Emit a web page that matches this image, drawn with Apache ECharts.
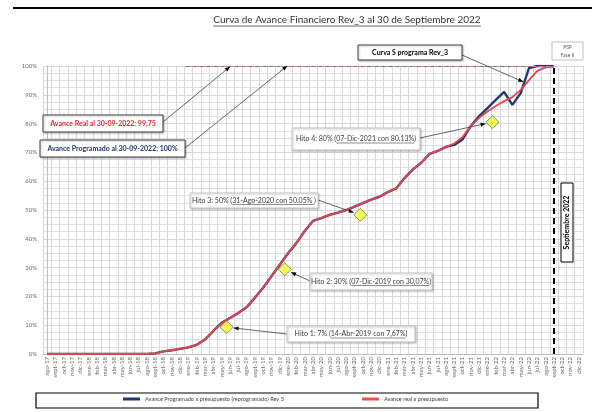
<!DOCTYPE html>
<html><head><meta charset="utf-8">
<script src="https://cdn.jsdelivr.net/npm/echarts/dist/echarts.min.js"></script>
<style>html,body{margin:0;padding:0;background:#fff}#c{width:592px;height:412px}</style>
</head><body><div id="c"></div>
<script>
const titleText = 'Curva de Avance Financiero Rev_3 al 30 de Septiembre 2022';
const categories = ['ago-17','sept-17','oct-17','nov-17','dic-17',
 'ene-18','feb-18','mar-18','abr-18','may-18','jun-18','jul-18','ago-18','sept-18','oct-18','nov-18','dic-18',
 'ene-19','feb-19','mar-19','abr-19','may-19','jun-19','jul-19','ago-19','sept-19','oct-19','nov-19','dic-19',
 'ene-20','feb-20','mar-20','abr-20','may-20','jun-20','jul-20','ago-20','sept-20','oct-20','nov-20','dic-20',
 'ene-21','feb-21','mar-21','abr-21','may-21','jun-21','jul-21','ago-21','sept-21','oct-21','nov-21','dic-21',
 'ene-22','feb-22','mar-22','abr-22','may-22','jun-22','jul-22','ago-22','sept-22','oct-22','nov-22','dic-22'];
const seriesNames = ['Avance Programado x presupuesto (reprogramado) Rev 3', 'Avance real x presupuesto'];
const programado = [0,0,0,0,0,0,0,0,0,0,0,0,0,
 0.2,0.9,1.3,1.8,2.3,3.2,5.0,8.0,10.8,12.5,14.2,16.2,19.5,23,27,31,35,38.5,42.7,46.2,47.2,48.3,49.1,50,51.2,52.4,53.6,54.6,56.2,57.5,61,64,66.3,69.4,70.5,71.9,
 72.6,74.5,79.2,82.6,85.4,88.2,91,86.5,90.6,99.3,100,100,100,null,null,null];
const real = [0,0,0,0,0,0,0,0,0,0,0,0,0,
 0.2,0.9,1.3,1.8,2.3,3.2,5.0,8.0,10.8,12.5,14.2,16.2,19.5,23,27,31,35,38.5,42.7,46.2,47.2,48.3,49.1,50,51.2,52.4,53.6,54.6,56.2,57.5,61,64,66.3,69.4,70.5,71.9,
 73.1,75.3,79.2,82,84.2,86.1,87.8,89.2,91.7,95.1,98.3,99.5,99.75,null,null,null];
// milestone diamonds (x in category-index units, y in %)
const milestoneX = [21.6, 28.6, 37.7, 53.6];
const milestoneY = [9.3, 29.4, 48.3, 80.5];
const hitoPrefix = ['Hito 1: 7% (', 'Hito 2: 30% (', 'Hito 3: 50% (', 'Hito 4: 80% ('];
const hitoUnder = ['14-Abr-2019 con 7,67%', '07-Dic-2019 con 30,07%', '31-Ago-2020 con 50.05% ', '07-Dic-2021 con 80.13%'];
const hitoSuffix = [')', ')', ')', ')'];
const targetProgramado = 100;
const targetReal = 99.75;
const dashStart = 16.6, dashEnd = 61;
const cutoff = 'sept-22';
const realLabel = 'Avance Real al 30-09-2022: 99,75';
const progLabel = 'Avance Programado al 30-09-2022: 100%';
const curvaLabel = 'Curva S programa Rev_3';
const cutoffLabel = 'Septiembre 2022';
const pspLabel = ['PSP', 'Fase II'];
// arrow target points (data coords on index axis)
const realArrowTarget = [22, 99.75];
const progArrowTarget = [28.9, 100];
const curvaArrowTarget = [57.3, 94.5];

const FONT = 'Lato, "Open Sans", sans-serif';
const chart = echarts.init(document.getElementById('c'));
chart.setOption({
  animation: false,
  backgroundColor: '#fff',
  textStyle: {fontFamily: FONT},
  grid: {left: 43, right: 9, top: 66, bottom: 58, containLabel: false, outerBoundsMode: 'none'},
  legend: {
    data: seriesNames, left: 123, top: 396, padding: 0, itemGap: 78,
    itemWidth: 17, itemHeight: 3, icon: 'rect',
    textStyle: {fontSize: 5.6, color: '#404040', fontFamily: FONT}
  },
  xAxis: [{
    type: 'category', data: categories, boundaryGap: true,
    axisLine: {lineStyle: {color: '#bfbfbf'}}, axisTick: {show: false},
    axisLabel: {interval: 0, rotate: 90, fontSize: 6, color: '#6a6a6a', margin: 3},
    splitLine: {show: true, interval: 0, lineStyle: {color: '#d9d9d9', width: 1}}
  }, {
    type: 'value', min: -0.5, max: 64.5, show: false, splitLine: {show: false}
  }],
  yAxis: {
    type: 'value', min: 0, max: 100, interval: 10,
    axisLabel: {formatter: '{value}%', fontSize: 6, color: '#6a6a6a', margin: 6},
    axisLine: {show: true, lineStyle: {color: '#bfbfbf'}}, axisTick: {show: false},
    splitLine: {lineStyle: {color: '#d9d9d9'}},
    minorTick: {show: false, splitNumber: 4},
    minorSplitLine: {show: true, lineStyle: {color: '#e2e2e2'}}
  },
  series: [{
    name: seriesNames[0], type: 'line', data: programado, symbol: 'none',
    lineStyle: {color: '#1f3a6e', width: 2.4}, itemStyle: {color: '#1f3a6e'}, z: 2,
    markLine: {silent: true, symbol: ['none', 'none'], label: {show: false},
      lineStyle: {color: '#000', type: [6, 4], width: 2},
      data: [{xAxis: cutoff}]}
  }, {
    name: seriesNames[1], type: 'line', data: real, symbol: 'none',
    lineStyle: {color: '#e8424c', width: 1.8}, itemStyle: {color: '#f0504a'}, z: 3
  }, {
    type: 'scatter', xAxisIndex: 1, z: 5,
    data: milestoneX.map((x, i) => [x, milestoneY[i]]),
    symbol: 'diamond', symbolSize: 13,
    itemStyle: {color: '#f5f52a', borderColor: '#5f7f6a', borderWidth: 1},
    markLine: {silent: true, symbol: ['none', 'none'], label: {show: false},
      lineStyle: {type: [4, 3], width: 1.2},
      data: [
        [{coord: [dashStart, targetProgramado], lineStyle: {color: '#4f74c0', type: [4, 3], width: 1.2}}, {coord: [dashEnd, targetProgramado]}],
        [{coord: [dashStart, targetReal], lineStyle: {color: '#ef7f7f', type: [4, 3], width: 1.2, dashOffset: 3}}, {coord: [dashEnd, targetReal]}]
      ]}
  }]
});

const ctx = document.createElement('canvas').getContext('2d');
function tw(str, size, weight) { ctx.font = (weight || 'normal') + ' ' + size + 'px ' + FONT; return ctx.measureText(str).width; }
const px = (p) => chart.convertToPixel({xAxisIndex: 1, yAxisIndex: 0}, p);
const G = [];
function box(x, y, w, h, stroke, shadow) {
  G.push({type: 'rect', z: 20, shape: {x: x, y: y, width: w, height: h},
    style: {fill: '#fff', stroke: stroke, lineWidth: 1,
      shadowBlur: shadow ? 2 : 0, shadowColor: 'rgba(0,0,0,0.25)', shadowOffsetX: shadow ? 1 : 0, shadowOffsetY: shadow ? 1 : 0}});
}
function text(x, y, str, size, color, weight, align, rot) {
  G.push({type: 'text', z: 21, x: x, y: y, rotation: rot || 0,
    style: {text: str, fontSize: size, fontFamily: FONT, fontWeight: weight || 'normal', fill: color, align: align || 'left', verticalAlign: 'middle'}});
}
function line(x1, y1, x2, y2, color, w, z) {
  G.push({type: 'line', z: z || 19, shape: {x1: x1, y1: y1, x2: x2, y2: y2}, style: {stroke: color, lineWidth: w}});
}
function arrow(p0, p1) {
  line(p0[0], p0[1], p1[0], p1[1], '#404040', 0.8, 19);
  const dx = p1[0] - p0[0], dy = p1[1] - p0[1], L = Math.hypot(dx, dy);
  const ux = dx / L, uy = dy / L, bx = p1[0] - ux * 5, by = p1[1] - uy * 5;
  G.push({type: 'polygon', z: 19, shape: {points: [[p1[0], p1[1]], [bx - uy * 2, by + ux * 2], [bx + uy * 2, by - ux * 2]]}, style: {fill: '#000'}});
}

// page line + title
line(13, 8, 592, 8, '#000', 2, 5);
text(347, 20, titleText, 10, '#333', 'normal', 'center');
const tW = tw(titleText, 10);
line(347 - tW / 2, 26, 347 + tW / 2, 26, '#404040', 0.8, 5);

// Real / programado boxes
box(43, 115, 120, 17, '#404040', true);
text(103, 123.5, realLabel, 7, '#e0282e', 'bold', 'center');
arrow([163, 122], px(realArrowTarget));
box(40, 140, 145, 17, '#404040', true);
text(112.5, 148.5, progLabel, 7, '#1f3864', 'bold', 'center');
arrow([185, 148], px(progArrowTarget));

// Curva S box
box(358, 45, 104, 15, '#404040', true);
text(410, 52.5, curvaLabel, 7, '#000', 'bold', 'center');
arrow([462, 55], px(curvaArrowTarget));

// PSP box
box(552, 42, 31, 18, '#bfbfbf', false);
text(567.5, 47.5, pspLabel[0], 5, '#595959', 'normal', 'center');
text(567.5, 55, pspLabel[1], 5, '#595959', 'normal', 'center');

// Septiembre 2022 box
box(561, 183, 12, 79, '#000', false);
text(567, 222.5, cutoffLabel, 7, '#000', 'bold', 'center', Math.PI / 2);

// Hito boxes
const hitoBoxes = [[287, 326, 128, 16], [310, 273, 122, 17], [190, 193, 128, 15], [292, 128, 128, 22]];
const hitoSource = [[287, 334], [310, 281], [318, 200], [420, 138]];
hitoBoxes.forEach((b, i) => {
  box(b[0], b[1], b[2], b[3], '#c8c8c8', true);
  const full = hitoPrefix[i] + hitoUnder[i] + hitoSuffix[i];
  const fw = tw(full, 7);
  const x0 = b[0] + (b[2] - fw) / 2, yc = b[1] + b[3] / 2;
  text(x0, yc, full, 7, '#404040', 'normal', 'left');
  const u0 = x0 + tw(hitoPrefix[i], 7), u1 = u0 + tw(hitoUnder[i], 7);
  G.push({type: 'line', z: 22, shape: {x1: u0, y1: yc + 4, x2: u1, y2: yc + 4}, style: {stroke: '#404040', lineWidth: 0.6}});
  const c = px([milestoneX[i], milestoneY[i]]);
  const s = hitoSource[i];
  const dx = s[0] - c[0], dy = s[1] - c[1], L = Math.hypot(dx, dy);
  arrow(s, [c[0] + dx / L * 7, c[1] + dy / L * 7]);
});

// legend frame
G.push({type: 'rect', z: 1, shape: {x: 36, y: 393, width: 502, height: 15}, style: {fill: 'none', stroke: '#000', lineWidth: 1.2}});

chart.setOption({graphic: G});
</script></body></html>
